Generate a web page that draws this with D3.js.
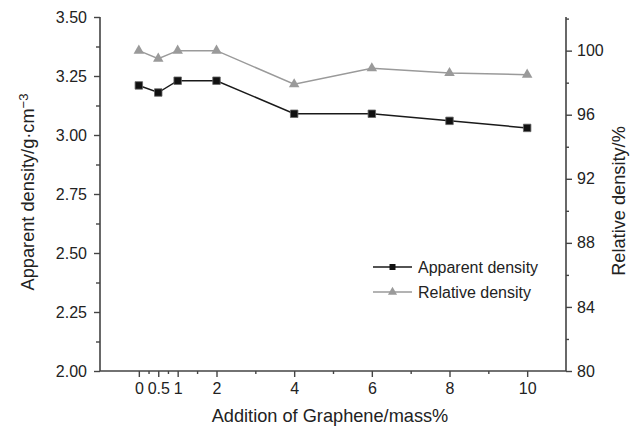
<!DOCTYPE html>
<html>
<head>
<meta charset="utf-8">
<script src="https://cdn.jsdelivr.net/npm/d3@7"></script>
<style>
  html, body { margin: 0; padding: 0; background: #fff; }
  svg { display: block; }
  text { font-family: "Liberation Sans", Arial, Helvetica, sans-serif; fill: #222; }
</style>
</head>
<body>
<svg id="chart" width="634" height="429"></svg>
<script>
// Graphene addition (mass%)
const graphene = [0, 0.5, 1, 2, 4, 6, 8, 10];
// Apparent density, g·cm^-3
const apparentDensity = [3.21, 3.18, 3.23, 3.23, 3.09, 3.09, 3.06, 3.03];
// Relative density, %
const relativeDensity = [100.0, 99.5, 100.0, 100.0, 97.9, 98.9, 98.6, 98.5];

const xMajorTicks = [0, 0.5, 1, 2, 4, 6, 8, 10];
const xMinorTicks = [0.25, 0.75, 1.5, 3, 5, 7, 9];
const leftMajorTicks = [2.0, 2.25, 2.5, 2.75, 3.0, 3.25, 3.5];
const leftMinorTicks = [2.125, 2.375, 2.625, 2.875, 3.125, 3.375];
const rightMajorTicks = [80, 84, 88, 92, 96, 100];
const rightMinorTicks = [82, 86, 90, 94, 98, 102];

const seriesNames = ["Apparent density", "Relative density"];

const svg = d3.select("#chart");
const plotLeft = 100, plotRight = 566, plotTop = 17, plotBottom = 371;

const x = d3.scaleLinear().domain([-1, 11]).range([plotLeft, plotRight]);
const yL = d3.scaleLinear().domain([2.0, 3.5]).range([plotBottom, plotTop]);
const yR = d3.scaleLinear().domain([80, 102.1]).range([plotBottom, plotTop]);

const axisColor = "#444";
function styleAxis(g, showLabels) {
  g.select(".domain").remove();
  g.selectAll(".tick line").attr("stroke", axisColor).attr("stroke-width", 1.4);
  if (!showLabels) g.selectAll(".tick text").remove();
  g.selectAll(".tick text").attr("font-size", 16).attr("fill", "#222");
}

// X axis: minor then major ticks
svg.append("g").attr("transform", `translate(0,${plotBottom})`)
  .call(d3.axisBottom(x).tickValues(xMinorTicks).tickSize(3).tickFormat(""))
  .call(g => styleAxis(g, false));
svg.append("g").attr("transform", `translate(0,${plotBottom})`)
  .call(d3.axisBottom(x).tickValues(xMajorTicks).tickSize(6).tickPadding(6).tickFormat(d3.format("")))
  .call(g => styleAxis(g, true));

// Left axis
svg.append("g").attr("transform", `translate(${plotLeft},0)`)
  .call(d3.axisLeft(yL).tickValues(leftMinorTicks).tickSize(4).tickFormat(""))
  .call(g => styleAxis(g, false));
svg.append("g").attr("transform", `translate(${plotLeft},0)`)
  .call(d3.axisLeft(yL).tickValues(leftMajorTicks).tickSize(6).tickPadding(7).tickFormat(d3.format(".2f")))
  .call(g => styleAxis(g, true));

// Right axis
svg.append("g").attr("transform", `translate(${plotRight},0)`)
  .call(d3.axisRight(yR).tickValues(rightMinorTicks).tickSize(3).tickFormat(""))
  .call(g => styleAxis(g, false));
svg.append("g").attr("transform", `translate(${plotRight},0)`)
  .call(d3.axisRight(yR).tickValues(rightMajorTicks).tickSize(6).tickPadding(5).tickFormat(d3.format("d")))
  .call(g => styleAxis(g, true));

// Axis lines (left, bottom, right; open at the top)
svg.append("path")
  .attr("d", `M${plotLeft},${plotTop}V${plotBottom}H${plotRight}V${plotTop}`)
  .attr("fill", "none").attr("stroke", axisColor).attr("stroke-width", 1.6);

// Series
const darkColor = "#1a1a1a", greyColor = "#9a9a9a";

const lineL = d3.line().x((d, i) => x(graphene[i])).y(d => yL(d));
const lineR = d3.line().x((d, i) => x(graphene[i])).y(d => yR(d));

svg.append("path").datum(relativeDensity).attr("d", lineR)
  .attr("fill", "none").attr("stroke", greyColor).attr("stroke-width", 1.5);
svg.append("path").datum(apparentDensity).attr("d", lineL)
  .attr("fill", "none").attr("stroke", darkColor).attr("stroke-width", 1.5);

const triangle = d3.symbol().type(d3.symbolTriangle).size(48);
const square = d3.symbol().type(d3.symbolSquare).size(56);

svg.append("g").selectAll("path").data(relativeDensity).join("path")
  .attr("transform", (d, i) => `translate(${x(graphene[i])},${yR(d)})`)
  .attr("d", triangle).attr("fill", greyColor);
svg.append("g").selectAll("path").data(apparentDensity).join("path")
  .attr("transform", (d, i) => `translate(${x(graphene[i])},${yL(d)})`)
  .attr("d", square).attr("fill", "#111").attr("stroke", "#666").attr("stroke-width", 0.8);

// Legend
const legend = svg.append("g");
const legendRows = [
  { name: seriesNames[0], color: darkColor, sym: d3.symbol().type(d3.symbolSquare).size(36), fill: "#111", y: 267 },
  { name: seriesNames[1], color: greyColor, sym: d3.symbol().type(d3.symbolTriangle).size(36), fill: greyColor, y: 292 }
];
legendRows.forEach(r => {
  legend.append("line").attr("x1", 373).attr("x2", 412).attr("y1", r.y).attr("y2", r.y)
    .attr("stroke", r.color).attr("stroke-width", 1.5);
  legend.append("path").attr("transform", `translate(392.5,${r.y})`)
    .attr("d", r.sym()).attr("fill", r.fill);
  legend.append("text").attr("x", 418).attr("y", r.y).attr("dy", "0.35em")
    .attr("font-size", 16).text(r.name);
});

// Axis titles
svg.append("text").attr("x", 330).attr("y", 422)
  .attr("text-anchor", "middle").attr("font-size", 18.2)
  .text("Addition of Graphene/mass%");

const yTitle = svg.append("text")
  .attr("transform", `translate(34,192) rotate(-90)`)
  .attr("text-anchor", "middle").attr("font-size", 18.2);
yTitle.append("tspan").text("Apparent density/g·cm");
yTitle.append("tspan").attr("dy", "-0.45em").attr("font-size", 13).text("−3");

svg.append("text")
  .attr("transform", `translate(625,201) rotate(-90)`)
  .attr("text-anchor", "middle").attr("font-size", 18.2)
  .text("Relative density/%");
</script>
</body>
</html>
